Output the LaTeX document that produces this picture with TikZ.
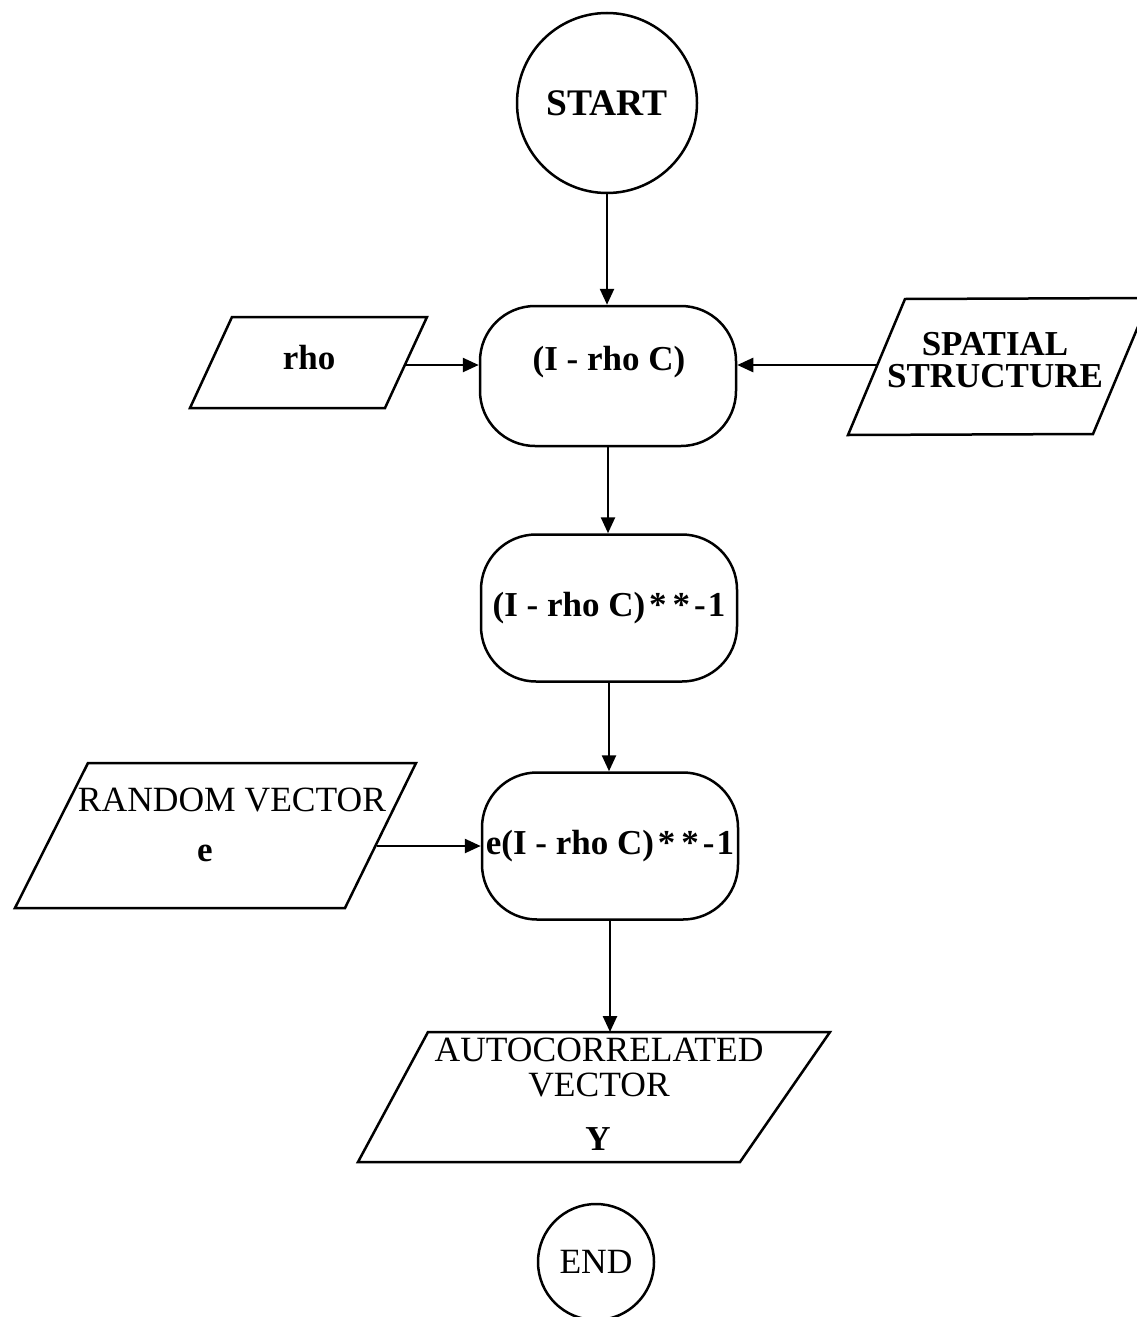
\documentclass[tikz,border=0pt]{standalone}
\usepackage{fontspec}
\setmainfont{Liberation Serif}
\usetikzlibrary{arrows.meta}

% spaced exponent marks after the matrix expression
\newcommand{\invmark}{\kern4pt*\kern6pt*\kern4pt-\kern2pt1}

\begin{document}
\begin{tikzpicture}[x=1pt, y=-1pt, line width=2.5pt, line join=miter,
  flow/.style={-{Triangle[length=16pt,width=14pt]}},
  term/.style={draw, circle, inner sep=0pt},
  proc/.style={draw, rectangle, rounded corners=55pt, minimum width=256pt,
               minimum height=142pt, inner sep=0pt},
  txtb/.style={font=\fontsize{35}{32}\selectfont\bfseries, inner sep=0pt},
  txtr/.style={font=\fontsize{35.5}{35}\selectfont, inner sep=0pt, align=center}
]
\useasboundingbox (0,0) rectangle (1136,1317);

% terminals
\node[term, minimum size=180pt, txtb, font=\fontsize{37.5}{40}\selectfont\bfseries]
  (start) at (607,103) {START};
\node[term, minimum size=116pt, txtr] (end) at (596,1262) {END};

% process boxes
\node[proc, minimum height=140pt] (b1) at (608,376) {};
\node[txtb] (b1txt) at (609,362) {(I - rho C)};
\node[proc, minimum height=147pt, txtb] (b2) at (609,608) {(I - rho C)\invmark};
\node[proc, minimum height=147pt, txtb] (b3) at (610,846) {e(I - rho C)\invmark};

% input parallelograms
\draw (232,317) -- (427,317) -- (385,408) -- (190,408) -- cycle;
\coordinate (rhoout) at (405,365);
\node[txtb] (rhotxt) at (309,358) {rho};

\draw (905,299) -- (1150,298) -- (1093,434) -- (848,435) -- cycle;
\coordinate (spout) at (877,365);
\node[txtb, align=center] (sptxt) at (995,360) {SPATIAL\\STRUCTURE};

\draw (88,763) -- (416,763) -- (345,908) -- (15,908) -- cycle;
\coordinate (rvout) at (377,846);
\node[txtr] (rvtxt) at (232,800) {RANDOM VECTOR};
\node[txtb] (rve) at (205,853) {e};

% output parallelogram
\draw (428,1032) -- (830,1032) -- (740,1162) -- (358,1162) -- cycle;
\coordinate (autoin) at (608,1032);
\node[txtr] (autotxt) at (599,1068) {AUTOCORRELATED\\VECTOR};
\node[txtb] (autoy) at (598,1139) {Y};

% connectors
\draw[flow] (start.south) -- (start.south |- b1.north);
\draw[flow] (rhoout) -- (b1.west |- rhoout);
\draw[flow] (spout) -- (b1.east |- spout);
\draw[flow] (b1.south) -- (b1.south |- b2.north);
\draw[flow] (b2.south) -- (b2.south |- b3.north);
\draw[flow] (rvout) -- (b3.west |- rvout);
\draw[flow] (b3.south) -- (b3.south |- autoin);
\end{tikzpicture}
\end{document}
